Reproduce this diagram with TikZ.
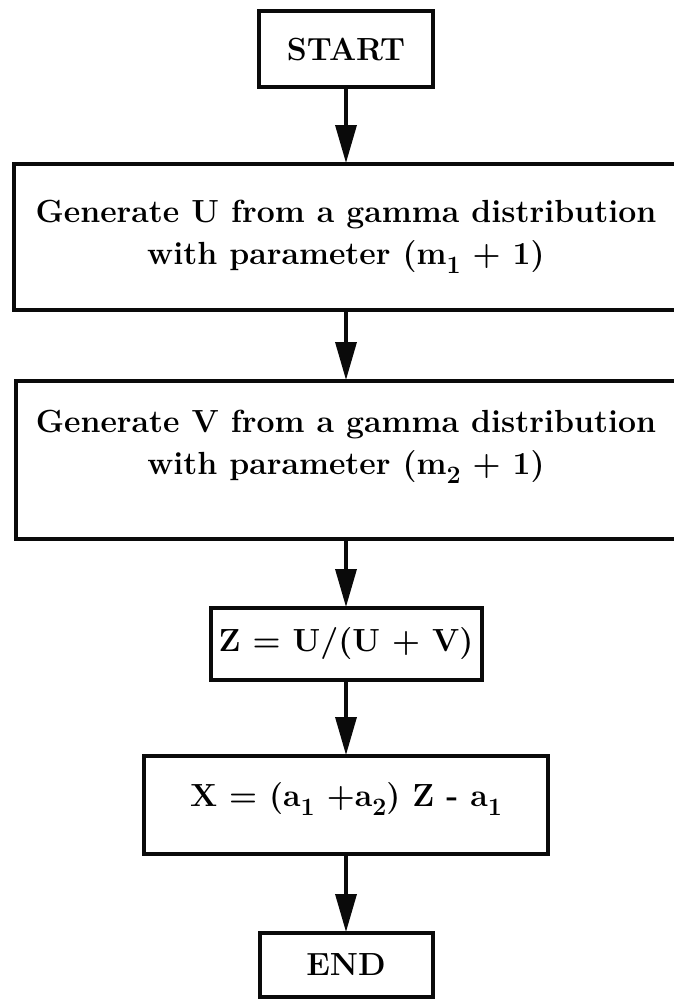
\documentclass[tikz,border=0pt]{standalone}
\usepackage{amsmath,amssymb}
\usepackage{tikz}
\usetikzlibrary{arrows.meta, positioning, calc}
\usepackage{xcolor}
\definecolor{ink}{RGB}{10,10,10}
\newcommand{\lowidx}[1]{\raisebox{-9pt}{\fontsize{25}{25}\selectfont #1}}

\begin{document}
\begin{tikzpicture}[x=1pt, y=1pt,
  box/.style={draw=ink, line width=4pt, align=center, inner sep=0pt,
    font=\fontsize{32}{42}\selectfont\bfseries},
  txt/.style={align=center, inner sep=0pt, font=\fontsize{32}{42}\selectfont\bfseries},
  flow/.style={draw=ink, line width=3.5pt, -{Triangle[length=38pt, width=21pt]}, shorten >=-1pt}]
  \useasboundingbox (0,0) rectangle (673,-999);
  % Boxes
  \node[box, minimum width=174, minimum height=76] (start) at (346,-49) {START};
  \node[box, minimum width=664, minimum height=146] (genU) at (346,-237)
    {Generate U from a gamma distribution\\with parameter (m\lowidx{1} + 1)};
  \node[box, minimum width=660, minimum height=158] (genV) at (346,-460) {};
  \node[txt] (genVtext) at (346,-447)
    {Generate V from a gamma distribution\\with parameter (m\lowidx{2} + 1)};
  \node[box, minimum width=271, minimum height=72] (zval) at (346,-644) {Z = U/(U + V)};
  \node[box, minimum width=404, minimum height=98] (xval) at (346,-805) {};
  \node[txt] (xvaltext) at (346,-799) {X = (a\lowidx{1} +a\lowidx{2}) Z - a\lowidx{1}};
  \node[box, minimum width=173, minimum height=64] (stop) at (346,-965) {END};
  % Arrows
  \foreach \a/\b in {start/genU, genU/genV, genV/zval, zval/xval, xval/stop}
    \draw[flow] (\a) -- (\b);
\end{tikzpicture}
\end{document}
